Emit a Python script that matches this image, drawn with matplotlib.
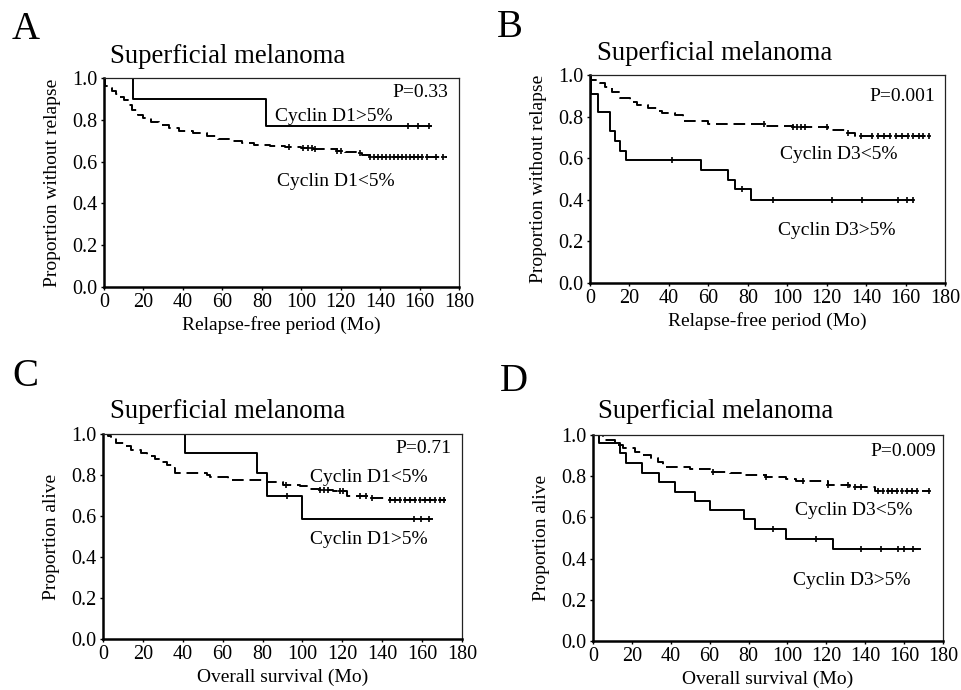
import numpy as np
import matplotlib
matplotlib.use('Agg')
import matplotlib.pyplot as plt

plt.rcParams['font.family'] = ['Liberation Serif', 'DejaVu Serif']

# Panel A: relapse-free, cyclin D1
A_hi_t = [0, 14.7, 82]
A_hi_s = [1.0, 0.90, 0.77]
A_hi_end = 166
A_hi_cens = [154, 159, 165]
A_lo_t = [0, 0.5, 2, 4, 6, 8, 10, 12, 14, 17, 20, 24, 28, 33, 38, 45, 52, 58, 64, 70, 76,
          84, 92, 100, 106, 118, 122, 128, 131, 135]
A_lo_s = [1.0, 0.96, 0.95, 0.94, 0.925, 0.91, 0.895, 0.87, 0.845, 0.825, 0.81, 0.79, 0.775,
          0.76, 0.748, 0.735, 0.722, 0.71, 0.70, 0.69, 0.68, 0.675, 0.668, 0.665, 0.66,
          0.652, 0.647, 0.64, 0.632, 0.622]
A_lo_end = 174
A_lo_cens = [94, 101, 103.5, 105.5, 107, 118, 120, 130, 135, 137, 139, 141, 143, 145, 147,
             149, 151, 153, 155, 157, 159, 161, 164, 168.5, 172]

# Panel B: relapse-free, cyclin D3
B_lo_t = [0, 0.5, 5, 7.6, 11, 15.2, 20.3, 23.7, 29.6, 33.8, 36.4, 43, 47.3, 60, 89, 103,
          120.7, 130, 134.4]
B_lo_s = [1.0, 0.976, 0.96, 0.944, 0.92, 0.888, 0.872, 0.855, 0.84, 0.828, 0.816, 0.81,
          0.78, 0.765, 0.755, 0.748, 0.735, 0.72, 0.705]
B_lo_end = 172
B_lo_cens = [88, 103, 105, 107, 109, 120, 131, 137.6, 143, 146, 149, 152, 155, 158, 161,
             164, 167, 169, 172]
B_hi_t = [0, 0.5, 4.2, 10, 12.5, 15.2, 18.5, 56.5, 70, 73.5, 81.5]
B_hi_s = [1.0, 0.91, 0.82, 0.73, 0.685, 0.635, 0.59, 0.545, 0.495, 0.45, 0.40]
B_hi_end = 164
B_hi_cens = [41.7, 77, 92.6, 122.5, 137.7, 156.4, 160.6, 164]

# Panel C: overall survival, cyclin D1
C_lo_t = [0, 2.5, 4.2, 6.7, 10.9, 14.2, 19.2, 21.9, 26, 29.3, 31.9, 34.4, 36, 52, 53.6,
          62.8, 82, 90.4, 98.7, 103.8, 108.8, 115.5, 122.2, 132.3, 144]
C_lo_s = [1.0, 0.99, 0.979, 0.955, 0.94, 0.922, 0.909, 0.893, 0.877, 0.865, 0.849, 0.832,
          0.81, 0.80, 0.79, 0.776, 0.768, 0.753, 0.745, 0.732, 0.727, 0.72, 0.70, 0.69, 0.68]
C_lo_end = 172
C_lo_cens = [92, 109, 111, 113, 119, 120.5, 129, 132, 135, 144, 146.5, 149, 151.5, 154,
             156.5, 159, 161.5, 164, 166.5, 169, 171]
C_hi_t = [0, 41, 77, 82, 99.6]
C_hi_s = [1.0, 0.905, 0.81, 0.70, 0.585]
C_hi_end = 165
C_hi_cens = [92.4, 156, 159.5, 163.6]

# Panel D: overall survival, cyclin D3
D_lo_t = [0, 5.1, 11.2, 15.4, 21.4, 25.7, 30, 33.4, 36, 49.7, 60, 70.3, 77, 89, 99.5,
          104.6, 120.9, 132, 144.9]
D_lo_s = [1.0, 0.976, 0.951, 0.935, 0.919, 0.903, 0.886, 0.87, 0.843, 0.833, 0.821, 0.816,
          0.808, 0.796, 0.786, 0.776, 0.757, 0.749, 0.728]
D_lo_end = 173
D_lo_cens = [61.7, 89, 108, 120.9, 131, 134.5, 138, 146.6, 149, 151.5, 154, 156.5, 159,
             161.5, 164, 166.5, 173]
D_hi_t = [0, 3, 13.7, 17.1, 25.4, 34, 42, 52.3, 60, 77.5, 83.2, 99.5, 123.4]
D_hi_s = [1.0, 0.96, 0.911, 0.862, 0.817, 0.773, 0.724, 0.68, 0.635, 0.59, 0.543, 0.495, 0.445]
D_hi_end = 168
D_hi_cens = [92.6, 114.9, 138, 148.3, 157, 160, 164.6]

x_ticks = [0, 20, 40, 60, 80, 100, 120, 140, 160, 180]
y_ticks = [0.0, 0.2, 0.4, 0.6, 0.8, 1.0]

W, H = 962, 690


def km(ax, t, s, end, cens, dashed):
    tt = list(t) + [end]
    ss = list(s) + [s[-1]]
    line, = ax.step(tt, ss, where='post', color='black', lw=1.4)
    if dashed:
        line.set_dashes([6, 3])
    idx = np.searchsorted(t, cens, side='right') - 1
    cy = np.array(s)[idx]
    ax.plot(cens, cy, ls='none', marker='|', ms=4, mew=1.2, color='black')
    ax.plot(cens, cy, ls='none', marker='_', ms=3, mew=1.2, color='black')


def make_ax(fig, box):
    l, t, r, b = box
    ax = fig.add_axes([l / W, 1 - b / H, (r - l) / W, (b - t) / H])
    ax.set_xlim(0, 180)
    ax.set_ylim(0, 1.0)
    ax.set_xticks(x_ticks)
    ax.set_yticks(y_ticks)
    ax.set_yticklabels(['%.1f' % v for v in y_ticks])
    ax.tick_params(direction='out', length=2.5, width=1, labelsize=14.5, pad=2)
    for sp in ['left', 'bottom']:
        ax.spines[sp].set_linewidth(1.8)
    for sp in ['top', 'right']:
        ax.spines[sp].set_linewidth(0.9)
        ax.spines[sp].set_color('#222222')
    return ax


fig = plt.figure(figsize=(9.62, 6.9), dpi=100)

panels = [
    ('A', (104, 78, 459, 287), (12, 39), (110, 63), 'Proportion without relapse', 'Relapse-free period (Mo)'),
    ('B', (590, 75, 945, 283), (497, 37), (597, 60), 'Proportion without relapse', 'Relapse-free period (Mo)'),
    ('C', (103, 434, 462, 639), (12, 386), (110, 418), 'Proportion alive', 'Overall survival (Mo)'),
    ('D', (593, 435, 943, 641), (500, 391), (598, 418), 'Proportion alive', 'Overall survival (Mo)'),
]

axes = {}
for letter, box, lpos, tpos, ylab, xlab in panels:
    ax = make_ax(fig, box)
    axes[letter] = ax
    fig.text(lpos[0] / W, 1 - lpos[1] / H, letter, fontsize=28, ha='left', va='baseline')
    fig.text(tpos[0] / W, 1 - tpos[1] / H, 'Superficial melanoma', fontsize=19.3,
             ha='left', va='baseline')
    ax.set_ylabel(ylab, fontsize=14, labelpad=8)
    ax.set_xlabel(xlab, fontsize=14, labelpad=3)

fs = 14
ax = axes['A']
km(ax, A_lo_t, A_lo_s, A_lo_end, A_lo_cens, True)
km(ax, A_hi_t, A_hi_s, A_hi_end, A_hi_cens, False)
ax.text(174.5, 0.933, 'P=0.33', fontsize=fs, ha='right', va='center')
ax.text(86.5, 0.815, 'Cyclin D1>5%', fontsize=fs, ha='left', va='center')
ax.text(87.5, 0.504, 'Cyclin D1<5%', fontsize=fs, ha='left', va='center')

ax = axes['B']
km(ax, B_lo_t, B_lo_s, B_lo_end, B_lo_cens, True)
km(ax, B_hi_t, B_hi_s, B_hi_end, B_hi_cens, False)
ax.text(175, 0.895, 'P=0.001', fontsize=fs, ha='right', va='center')
ax.text(96.3, 0.62, 'Cyclin D3<5%', fontsize=fs, ha='left', va='center')
ax.text(95.5, 0.254, 'Cyclin D3>5%', fontsize=fs, ha='left', va='center')

ax = axes['C']
km(ax, C_lo_t, C_lo_s, C_lo_end, C_lo_cens, True)
km(ax, C_hi_t, C_hi_s, C_hi_end, C_hi_cens, False)
ax.text(174.7, 0.93, 'P=0.71', fontsize=fs, ha='right', va='center')
ax.text(103.7, 0.79, 'Cyclin D1<5%', fontsize=fs, ha='left', va='center')
ax.text(103.7, 0.483, 'Cyclin D1>5%', fontsize=fs, ha='left', va='center')

ax = axes['D']
km(ax, D_lo_t, D_lo_s, D_lo_end, D_lo_cens, True)
km(ax, D_hi_t, D_hi_s, D_hi_end, D_hi_cens, False)
ax.text(176.6, 0.919, 'P=0.009', fontsize=fs, ha='right', va='center')
ax.text(103.7, 0.635, 'Cyclin D3<5%', fontsize=fs, ha='left', va='center')
ax.text(102.9, 0.295, 'Cyclin D3>5%', fontsize=fs, ha='left', va='center')

fig.savefig('out.png', dpi=100)
